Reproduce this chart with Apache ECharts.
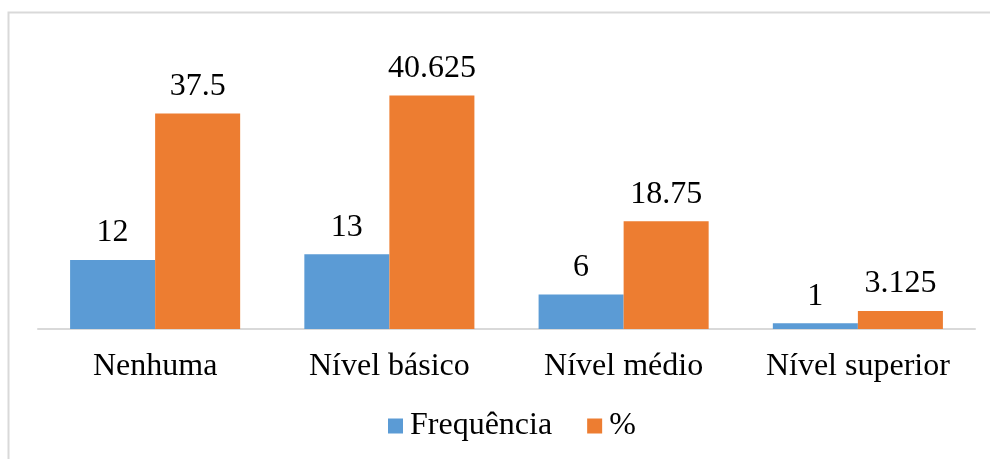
<!DOCTYPE html>
<html>
<head>
<meta charset="utf-8">
<script src="https://cdn.jsdelivr.net/npm/echarts@6/dist/echarts.min.js"></script>
<style>
html,body{margin:0;padding:0;background:#fff;}
#chart{width:990px;height:459px;}
</style>
</head>
<body>
<div id="chart"></div>
<script>
const categories = ['Nenhuma', 'Nível básico', 'Nível médio', 'Nível superior'];
const frequencia = [12, 13, 6, 1];
const percent = [37.5, 40.625, 18.75, 3.125];
const seriesNames = ['Frequência', '%'];

const FONT = '"Liberation Serif", "Times New Roman", serif';
const chart = echarts.init(document.getElementById('chart'));
const labelStyle = {
  show: true, position: 'top', distance: 11,
  fontFamily: FONT, fontSize: 32, color: '#000'
};
chart.setOption({
  animation: false,
  backgroundColor: '#fff',
  graphic: [{
    type: 'rect', silent: true,
    shape: { x: 8.5, y: 12.5, width: 1000, height: 500 },
    style: { fill: 'none', stroke: '#d9d9d9', lineWidth: 2 }
  }],
  legend: {
    left: 383, top: 405,
    itemWidth: 15, itemHeight: 15, itemGap: 35,
    icon: 'rect',
    textStyle: { fontFamily: FONT, fontSize: 32, color: '#000', padding: [0, 0, 0, 2] },
    data: seriesNames
  },
  grid: { left: 38, right: 15, top: 41.5, bottom: 130, containLabel: false },
  xAxis: {
    type: 'category', data: categories,
    axisLine: { show: true, lineStyle: { color: '#d9d9d9', width: 2 } },
    axisTick: { show: false },
    axisLabel: { margin: 22, fontFamily: FONT, fontSize: 32, color: '#000', interval: 0 }
  },
  yAxis: {
    type: 'value', min: 0, max: 50, show: false,
    splitLine: { show: false }
  },
  series: [
    { name: seriesNames[0], type: 'bar', data: frequencia, barGap: '0%', barCategoryGap: '27.4%',
      itemStyle: { color: '#5B9BD5' }, label: labelStyle },
    { name: seriesNames[1], type: 'bar', data: percent, barGap: '0%', barCategoryGap: '27.4%',
      itemStyle: { color: '#ED7D31' }, label: labelStyle }
  ]
});
</script>
</body>
</html>
